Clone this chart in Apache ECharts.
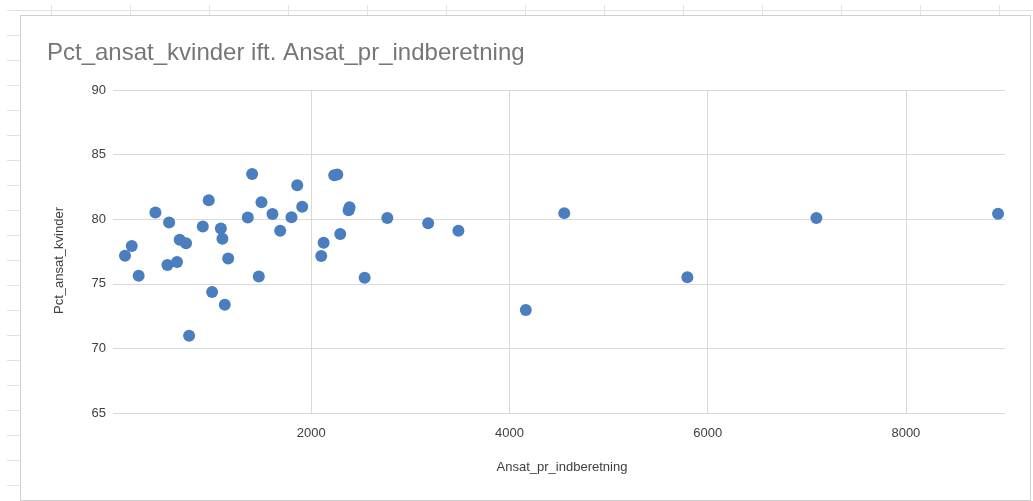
<!DOCTYPE html>
<html>
<head>
<meta charset="utf-8">
<script src="https://cdn.jsdelivr.net/npm/echarts@6/dist/echarts.min.js"></script>
<style>
  html, body { margin: 0; padding: 0; width: 1033px; height: 501px; overflow: hidden; background: #fff; }
  #sheetLeft { position: absolute; left: 7px; top: 0; width: 13px; height: 501px;
    background: repeating-linear-gradient(to bottom, transparent 0 10px, #e2e2e2 10px 11px, transparent 11px 25px); }
  #sheetTop { position: absolute; left: 0; top: 5px; width: 1033px; height: 10px;
    background: repeating-linear-gradient(to right, transparent 0 51px, #e2e2e2 51px 52px, transparent 52px 79px); }
  #sheetTopLine { position: absolute; left: 7px; top: 10px; width: 1026px; height: 1px; background: #e2e2e2; }
  #box { position: absolute; left: 20px; top: 15px; width: 1009px; height: 484px; border: 1px solid #d0d0d0; background: #fff; }
  #chart { width: 1009px; height: 484px; }
</style>
</head>
<body>
<div id="sheetLeft"></div>
<div id="sheetTop"></div>
<div id="sheetTopLine"></div>
<div id="box"><div id="chart"></div></div>
<script>
// Ansat_pr_indberetning (x) and Pct_ansat_kvinder (y)
const ansatPrIndberetning = [121, 189, 259, 428, 566, 549, 646, 673, 737, 768, 906, 966, 1000, 1088, 1104, 1128, 1162, 1360, 1404, 1471, 1498, 1609, 1687, 1801, 1859, 1909, 2101, 2125, 2232, 2263, 2293, 2377, 2387, 2539, 2768, 3180, 3485, 4165, 4553, 5795, 7097, 8930];
const pctAnsatKvinder = [77.18, 77.92, 75.62, 80.51, 79.74, 76.46, 76.69, 78.41, 78.13, 70.97, 79.44, 81.46, 74.36, 79.28, 78.49, 73.38, 76.95, 80.13, 83.49, 75.56, 81.31, 80.41, 79.10, 80.15, 82.62, 80.97, 77.15, 78.18, 83.41, 83.46, 78.85, 80.69, 80.92, 75.46, 80.10, 79.69, 79.10, 72.97, 80.47, 75.51, 80.09, 80.42];
const xTicks = [2000, 4000, 6000, 8000];
const yTicks = [65, 70, 75, 80, 85, 90];

const points = ansatPrIndberetning.map((x, i) => [x, pctAnsatKvinder[i]]);
const chart = echarts.init(document.getElementById('chart'), null, { renderer: 'canvas' });
const labelFont = '"Liberation Sans", Arial, sans-serif';
chart.setOption({
  animation: false,
  title: {
    text: 'Pct_ansat_kvinder ift. Ansat_pr_indberetning',
    left: 21, top: 20,
    textStyle: { color: '#767676', fontSize: 24, fontWeight: 'normal', fontFamily: labelFont }
  },
  grid: { left: 92, right: 25, top: 74, bottom: 87 },
  xAxis: {
    type: 'value', min: 0, max: 9000, interval: 2000,
    name: 'Ansat_pr_indberetning', nameLocation: 'middle', nameGap: 48,
    nameTextStyle: { color: '#404040', fontSize: 13, fontFamily: labelFont, padding: [0, 0, 0, 6] },
    axisLine: { show: false }, axisTick: { show: false },
    axisLabel: { color: '#404040', fontSize: 13, fontFamily: labelFont, margin: 14,
      showMinLabel: false, showMaxLabel: false,
      formatter: v => xTicks.includes(v) ? String(v) : '' },
    splitLine: { show: true, showMinLine: false, showMaxLine: false, lineStyle: { color: '#d9d9d9', width: 1 } }
  },
  yAxis: {
    type: 'value', min: 65, max: 90, interval: 5,
    name: 'Pct_ansat_kvinder', nameLocation: 'middle', nameGap: 47,
    nameTextStyle: { color: '#404040', fontSize: 13, fontFamily: labelFont, padding: [0, 18, 0, 0] },
    axisLine: { show: false }, axisTick: { show: false },
    axisLabel: { color: '#404040', fontSize: 13, fontFamily: labelFont, margin: 7,
      formatter: v => yTicks.includes(v) ? String(v) : '' },
    splitLine: { show: true, lineStyle: { color: '#d9d9d9', width: 1 } }
  },
  series: [{
    type: 'scatter',
    data: points,
    symbolSize: 12,
    itemStyle: { color: '#4a7ebf', opacity: 1 }
  }]
});
</script>
</body>
</html>
